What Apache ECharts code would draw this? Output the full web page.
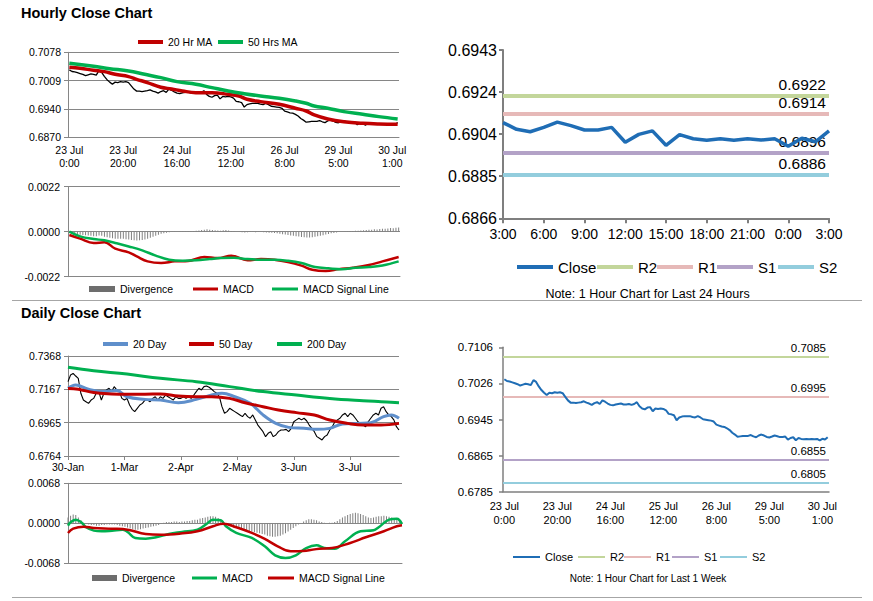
<!DOCTYPE html>
<html><head><meta charset="utf-8">
<script src="https://cdn.jsdelivr.net/npm/echarts@6/dist/echarts.min.js"></script>
<style>html,body{margin:0;padding:0;background:#fff}#c{width:873px;height:601px}</style>
</head><body><div id="c"></div>
<script>
// ---------------- categories / tick labels ----------------
const hourDays = [['23 Jul',0,23],['24 Jul',0,23],['25 Jul',0,23],['26 Jul',0,22],['29 Jul',0,23],['30 Jul',0,3]];
const hourCats = [];
hourDays.forEach(([d,a,b])=>{for(let h=a;h<=b;h++) hourCats.push(d+'\n'+h+':00');});
const hourTickLabels = ['23 Jul\n0:00','23 Jul\n20:00','24 Jul\n16:00','25 Jul\n12:00','26 Jul\n8:00','29 Jul\n5:00','30 Jul\n1:00'];
const last24Start = 98;
const cats24 = hourCats.slice(last24Start).map(c=>c.split('\n')[1]);

const monthNames = ['Jan','Feb','Mar','Apr','May','Jun','Jul'];
const dailyCats = [];
for (let d = new Date(Date.UTC(2019,0,30)); d.getTime() <= Date.UTC(2019,6,30); d.setUTCDate(d.getUTCDate()+1)) {
  const wd = d.getUTCDay(); if (wd>0 && wd<6) dailyCats.push(d.getUTCDate()+'-'+monthNames[d.getUTCMonth()]);
}
const dailyTickLabels = ['30-Jan','1-Mar','2-Apr','2-May','3-Jun','3-Jul'];

const yTicksHourly = ['0.6870','0.6940','0.7009','0.7078'];
const yTicksHourlyMacd = ['-0.0022','0.0000','0.0022'];
const yTicks24h = ['0.6866','0.6885','0.6904','0.6924','0.6943'];
const yTicksDaily = ['0.6764','0.6965','0.7167','0.7368'];
const yTicksDailyMacd = ['-0.0068','0.0000','0.0068'];
const yTicksWeek = ['0.6785','0.6865','0.6945','0.7026','0.7106'];

// ---------------- hourly values ----------------
const hourlyClose = [
0.7035,0.7031,0.7030,0.7028,0.7026,0.7024,0.7021,0.7023,0.7025,0.7024,
0.7022,0.7033,0.7029,0.7019,0.7011,0.7005,0.7000,0.7005,0.7004,0.7006,
0.7005,0.7006,0.7004,0.6996,0.6988,0.6983,0.6983,0.6982,0.6983,0.6984,
0.6986,0.6983,0.6981,0.6978,0.6982,0.6984,0.6980,0.6988,0.6985,0.6981,
0.6978,0.6977,0.6979,0.6980,0.6981,0.6979,0.6979,0.6980,0.6978,0.6980,
0.6984,0.6975,0.6970,0.6968,0.6972,0.6973,0.6964,0.6970,0.6969,0.6970,
0.6969,0.6966,0.6958,0.6957,0.6955,0.6944,0.6950,0.6952,0.6953,0.6953,
0.6953,0.6951,0.6950,0.6953,0.6950,0.6946,0.6945,0.6944,0.6943,0.6941,
0.6934,0.6932,0.6930,0.6929,0.6926,0.6922,0.6916,0.6912,0.6907,0.6908,
0.6909,0.6909,0.6909,0.6911,0.6908,0.6906,0.6910,0.6912,
0.69098,0.69067,0.69056,0.69076,0.69100,0.69084,0.69064,0.69064,0.69076,0.69008,
0.69044,0.69060,0.68994,0.69043,0.69024,0.69017,0.69024,0.69017,0.69024,0.69018,
0.69024,0.68990,0.69026,0.69010,0.69060];
const ma20Hourly = [[0,0.70413],[4,0.70388],[9,0.70340],[13,0.70307],[17,0.70241],[22,0.70185],[25,0.70119],[29,0.70039],[34,0.69924],[38,0.69883],[42,0.69834],[47,0.69793],[53,0.69793],[59,0.69752],[63,0.69711],[66,0.69630],[71,0.69573],[78,0.69507],[84,0.69410],[88,0.69344],[91,0.69247],[96,0.69149],[102,0.69083],[109,0.69043],[115,0.69026],[122,0.69018]];
const ma50Hourly = [[0,0.70511],[9,0.70437],[15,0.70380],[22,0.70323],[28,0.70242],[34,0.70160],[40,0.70062],[47,0.69997],[53,0.69915],[59,0.69834],[65,0.69768],[71,0.69711],[78,0.69654],[84,0.69589],[88,0.69532],[91,0.69466],[96,0.69410],[102,0.69328],[109,0.69263],[115,0.69206],[122,0.69149]];
const hourlyDiv = [
-0.00005,-0.0001,-0.00012,-0.00014,-0.00015,-0.00016,-0.00017,-0.00018,-0.0002,-0.00022,
-0.00022,-0.00018,-0.0002,-0.00025,-0.00027,-0.0003,-0.00032,-0.00034,-0.00035,-0.00034,
-0.00035,-0.00037,-0.00038,-0.0004,-0.00042,-0.00043,-0.00042,-0.0004,-0.00038,-0.00035,
-0.0003,-0.00025,-0.0002,-0.00015,-0.0001,-0.00007,-0.00005,-0.00003,-0.00002,-0.00001,
0,0.00001,-0.00001,0.00001,0.00002,0.00003,0.00004,0.00005,0.00006,0.00008,
0.0001,0.00012,0.0001,0.00008,0.00007,0.00006,0.00005,0.00007,0.00008,0.00006,
0.00004,0.00002,0,-0.00002,-0.00003,-0.00004,-0.00003,-0.00002,-0.00002,-0.00003,
-0.00002,-0.00002,-0.00003,-0.00004,-0.00005,-0.00005,-0.00006,-0.00008,-0.0001,-0.00012,
-0.00014,-0.00016,-0.00018,-0.0002,-0.00022,-0.00024,-0.00026,-0.00027,-0.00028,-0.00028,
-0.00027,-0.00025,-0.00022,-0.0002,-0.00017,-0.00014,-0.00011,-0.00008,-0.00006,-0.00004,
-0.00002,0,0.00001,0.00002,0.00003,0.00004,0.00005,0.00005,0.00006,0.00007,
0.00008,0.0001,0.00009,0.00012,0.00011,0.00013,0.00015,0.00014,0.00016,0.00018,
0.00017,0.00019,0.0002];
const macdHourly = [[0,-0.00016],[4,-0.00034],[9,-0.00055],[13,-0.00052],[17,-0.00083],[22,-0.00101],[25,-0.00121],[29,-0.00145],[34,-0.00153],[39,-0.00145],[44,-0.00143],[50,-0.00124],[55,-0.00129],[60,-0.00117],[66,-0.0014],[71,-0.00134],[76,-0.00137],[81,-0.00148],[86,-0.00166],[90,-0.00186],[95,-0.00192],[100,-0.00183],[105,-0.00176],[111,-0.00163],[116,-0.00145],[122,-0.00124]];
const signalHourly = [[0,0],[4,-0.00023],[9,-0.00036],[13,-0.00042],[17,-0.00055],[22,-0.00072],[27,-0.00091],[32,-0.00117],[37,-0.00137],[42,-0.00142],[47,-0.0014],[52,-0.00134],[56,-0.00129],[61,-0.00127],[66,-0.00134],[71,-0.00137],[76,-0.00137],[81,-0.00142],[86,-0.00153],[91,-0.00173],[96,-0.00179],[101,-0.00183],[106,-0.00176],[111,-0.00173],[116,-0.00165],[122,-0.00145]];

// ---------------- daily values ----------------
const dailyClose = [
0.7213,0.7253,0.7263,0.7247,0.7233,0.7143,0.7102,0.7092,0.7082,0.7102,
0.7112,0.7143,0.7153,0.7102,0.7143,0.7163,0.7173,0.7153,0.7183,0.7163,
0.7153,0.7112,0.7102,0.7112,0.7072,0.7046,0.7032,0.7052,0.7072,0.7082,
0.7102,0.7102,0.7092,0.7112,0.7122,0.7102,0.7122,0.7112,0.7132,0.7122,
0.7112,0.7102,0.7122,0.7112,0.7112,0.7122,0.7112,0.7122,0.7112,0.7132,
0.7153,0.7173,0.7163,0.7183,0.7187,0.7179,0.7167,0.7153,0.7143,0.7122,
0.7062,0.7022,0.7032,0.7052,0.7042,0.7032,0.7022,0.7012,0.7002,0.7022,
0.7002,0.6992,0.7012,0.6982,0.6951,0.6931,0.6911,0.6881,0.6901,0.6911,
0.6881,0.6891,0.6911,0.6921,0.6921,0.6925,0.6911,0.6931,0.6971,0.6982,
0.6992,0.6982,0.6992,0.6977,0.6951,0.6931,0.6911,0.6881,0.6871,0.6861,
0.6881,0.6891,0.6921,0.6941,0.6971,0.6982,0.6992,0.7012,0.7022,0.7002,
0.7022,0.7012,0.6992,0.6971,0.6961,0.6951,0.6941,0.6971,0.6992,0.7012,
0.7022,0.7012,0.7052,0.7062,0.7032,0.7012,0.7002,0.6982,0.6941,0.6921];
const ma20Daily = [[0,0.7173],[3,0.7193],[8,0.7167],[14,0.7153],[19,0.7159],[23,0.7122],[30,0.7106],[36,0.7102],[43,0.7086],[50,0.7106],[56,0.7132],[60,0.7143],[65,0.7122],[71,0.7082],[76,0.7012],[81,0.6961],[86,0.6937],[92,0.6931],[97,0.6925],[102,0.6931],[107,0.6957],[113,0.6961],[118,0.6965],[123,0.7002],[126,0.7012],[129,0.6992]];
const ma50Daily = [[0,0.7171],[4,0.7167],[10,0.7147],[17,0.7139],[23,0.7137],[30,0.7137],[36,0.7139],[43,0.7126],[50,0.7122],[56,0.7122],[63,0.7112],[69,0.7086],[76,0.7062],[82,0.7042],[89,0.7026],[96,0.7012],[102,0.6981],[109,0.6961],[115,0.6951],[122,0.6951],[129,0.6961]];
const ma200Daily = [[0,0.7300],[10,0.7279],[23,0.7259],[36,0.7233],[50,0.7213],[63,0.7183],[76,0.7153],[89,0.7132],[102,0.7112],[115,0.7098],[122,0.7092],[129,0.7086]];
const dailyDiv = [
0.0010,0.0013,0.0015,0.0014,0.0010,0.0005,0.0001,-0.0001,-0.0002,
-0.0003,-0.0003,-0.0004,-0.0004,-0.0003,-0.0003,-0.0002,-0.0002,-0.0002,-0.0002,-0.0003,-0.0004,-0.0005,-0.0006,
-0.0007,-0.0009,-0.0010,-0.0011,-0.0011,-0.0010,-0.0009,-0.0008,-0.0007,-0.0006,-0.0005,-0.0004,-0.0003,
-0.0001,0.0001,0.0002,0.0002,0.0002,0.0003,0.0003,0.0002,0.0003,0.0003,
0.0004,0.0004,0.0005,0.0006,0.0006,0.0008,0.0009,0.0010,0.0011,0.0012,0.0012,0.0011,0.0009,
0.0006,0.0003,0.0000,-0.0003,
-0.0005,-0.0007,-0.0008,-0.0009,-0.0010,-0.0011,-0.0012,-0.0013,-0.0014,-0.0015,-0.0016,-0.0017,-0.0018,-0.0019,-0.0021,-0.0022,-0.0023,-0.0023,-0.0022,-0.0021,-0.0019,-0.0017,
-0.0014,-0.0011,-0.0008,-0.0005,-0.0002,0.0000,
0.0003,0.0005,0.0007,0.0007,0.0006,0.0005,0.0003,0.0002,0.0001,
0.0000,0.0001,0.0001,0.0002,0.0004,
0.0007,0.0010,0.0012,0.0014,0.0016,0.0017,0.0018,0.0017,0.0016,0.0014,0.0012,0.0010,
0.0009,0.0010,0.0011,0.0012,0.0012,0.0013,0.0012,0.0011,0.0010,0.0009,0.0007,0.0004,
0.0001];
const macdDaily = [[0,-0.0004],[1,0.00017],[3,0.00062],[5,0.00023],[7,-0.00068],[10,-0.00125],[13,-0.00136],[17,-0.00125],[21,-0.00108],[23,-0.00147],[26,-0.00249],[30,-0.00261],[34,-0.00238],[39,-0.00181],[44,-0.00147],[50,-0.00108],[54,0.00006],[56,0.00062],[59,0.00051],[61,-0.00051],[65,-0.00164],[71,-0.00249],[76,-0.00391],[80,-0.00544],[84,-0.00589],[88,-0.00544],[92,-0.0042],[96,-0.00374],[99,-0.0042],[103,-0.00431],[107,-0.00306],[113,-0.00136],[118,-0.00119],[120,-0.00068],[124,0.00062],[127,0.00079],[129,-0.00011]];
const signalDaily = [[0,-0.00164],[2,-0.00091],[6,-0.00057],[10,-0.00079],[17,-0.00091],[23,-0.00108],[30,-0.00181],[36,-0.00193],[43,-0.00176],[50,-0.00136],[56,-0.00051],[60,-0.00006],[65,-0.00068],[71,-0.00164],[76,-0.00266],[81,-0.00391],[86,-0.00476],[92,-0.00465],[97,-0.00431],[102,-0.0042],[109,-0.00334],[115,-0.00238],[122,-0.00136],[127,-0.00051],[129,-0.00034]];

// ---------------- pivot levels ----------------
const levelNames = ['R2','R1','S1','S2'];
const levels24h = [0.6922, 0.6914, 0.6896, 0.6886];
const levels1w = [0.7085, 0.6995, 0.6855, 0.6805];

// ---------------- styles ----------------
const FONT = "'Liberation Sans', Arial, Helvetica, sans-serif";
const GRAY = '#868686', AXG = '#7f7f7f';
const RED = '#c00000', GREEN = '#00b050', BLUE20 = '#5f8fcb', CLOSE_BLUE = '#1f6db5', DIVC = '#808080';
const levelColors = ['#c3d69b','#e6b9b8','#b3a2c7','#93cddd'];
const close24 = hourlyClose.slice(last24Start);

const hourTickFn = (i, v) => hourTickLabels.indexOf(v) >= 0;
const dayTickFn = (i, v) => dailyTickLabels.indexOf(v) >= 0;

function yAx(gi, labels, fs, margin, split, lw) {
  const vals = labels.map(Number);
  const min = vals[0], max = vals[vals.length-1];
  return {type:'value', gridIndex:gi, min, max, interval:(max-min)/(vals.length-1),
    axisLine:{show:true, lineStyle:{color:lw?AXG:GRAY, width:lw||1}},
    axisTick:{show:true, length:4, lineStyle:{color:lw?AXG:GRAY, width:lw||1}},
    axisLabel:{color:'#000', fontSize:fs, margin, fontFamily:FONT,
      formatter:(v)=>{let best=0;vals.forEach((x,k)=>{if(Math.abs(x-v)<Math.abs(vals[best]-v))best=k;});return labels[best];}},
    splitLine:{show:split, lineStyle:{color:GRAY, width:1}}};
}
function leg(name, x, cy, color, w, h, fs) {
  const lh = Math.round(fs*1.25);
  return {show:true, selectedMode:false, left:x, top:cy-lh/2, padding:0, itemGap:0,
    itemWidth:w, itemHeight:h, data:[{name, icon:'rect', itemStyle:{color, borderWidth:0}}],
    textStyle:{fontSize:fs, lineHeight:lh, color:'#000', fontFamily:FONT}};
}
function lineS(name, gi, data, color, width, smooth, z) {
  return {name, type:'line', xAxisIndex:gi, yAxisIndex:gi, data, symbol:'none', smooth:smooth||false,
    lineStyle:{color, width}, itemStyle:{color}, z:z||2, silent:true};
}
// legend-only series for the pivot levels (lines are drawn as markLines on the Close series)
function levelLegendS(k, gi, width) {
  const color = levelColors[k];
  return {name:levelNames[k], type:'line', xAxisIndex:gi, yAxisIndex:gi, data:[], symbol:'none',
    lineStyle:{color, width}, itemStyle:{color}, silent:true};
}
function levelMarks(vals, width, fs) {
  return {silent:true, symbol:['none','none'], animation:false, precision:4, z:1,
    data: vals.map((v,k)=>({yAxis:v,
      lineStyle:{color:levelColors[k], width, type:'solid'},
      label:{show:true, position:'insideEndTop', formatter:v.toFixed(4), color:'#000', fontSize:fs, fontFamily:FONT, distance:3}}))};
}

const option = {
  animation:false, backgroundColor:'#fff',
  textStyle:{fontFamily:FONT},
  grid:[
    {left:68, top:52.3, width:331, height:85},
    {left:68, top:186.7, width:332, height:90},
    {left:503, top:50, width:326, height:168.3},
    {left:68, top:356, width:331, height:100},
    {left:68, top:483.3, width:334, height:80},
    {left:503, top:347.3, width:326, height:144.4}
  ],
  xAxis:[
    {type:'category', gridIndex:0, data:hourCats, boundaryGap:true,
      axisLine:{lineStyle:{color:GRAY}}, axisTick:{interval:hourTickFn, length:4, lineStyle:{color:GRAY}},
      axisLabel:{interval:hourTickFn, fontSize:10.5, lineHeight:13, margin:6, color:'#000', fontFamily:FONT}},
    {type:'category', gridIndex:1, data:hourCats, boundaryGap:true,
      axisLine:{onZero:false, lineStyle:{color:GRAY}}, axisTick:{show:false}, axisLabel:{show:false}},
    {type:'category', gridIndex:2, data:cats24, boundaryGap:false,
      axisLine:{lineStyle:{color:AXG, width:2}}, axisTick:{interval:2, length:5, lineStyle:{color:AXG, width:2}},
      axisLabel:{interval:2, fontSize:14, margin:9, color:'#000', fontFamily:FONT}},
    {type:'category', gridIndex:3, data:dailyCats, boundaryGap:false,
      axisLine:{lineStyle:{color:GRAY}}, axisTick:{interval:dayTickFn, length:4, lineStyle:{color:GRAY}},
      axisLabel:{interval:dayTickFn, fontSize:10.5, margin:5, color:'#000', fontFamily:FONT}},
    {type:'category', gridIndex:4, data:dailyCats, boundaryGap:false,
      axisLine:{onZero:false, lineStyle:{color:GRAY}}, axisTick:{show:false}, axisLabel:{show:false}},
    {type:'category', gridIndex:5, data:hourCats, boundaryGap:true,
      axisLine:{lineStyle:{color:AXG, width:1.5}}, axisTick:{interval:hourTickFn, length:5, lineStyle:{color:AXG, width:1.5}},
      axisLabel:{interval:hourTickFn, fontSize:11, lineHeight:14, margin:7, color:'#000', fontFamily:FONT}}
  ],
  yAxis:[
    yAx(0, yTicksHourly, 10.5, 7, true),
    yAx(1, yTicksHourlyMacd, 10.5, 8, true),
    yAx(2, yTicks24h, 16, 6, false, 2),
    yAx(3, yTicksDaily, 10.5, 7, true),
    yAx(4, yTicksDailyMacd, 10.5, 8, true),
    yAx(5, yTicksWeek, 11.5, 10, false, 1.5)
  ],
  legend:[
    leg('20 Hr MA', 138, 42, RED, 25, 4, 10.5),
    leg('50 Hrs MA', 218, 42, GREEN, 25, 4, 10.5),
    leg('Divergence', 89, 289, '#6d6d6d', 26, 6, 10.5),
    leg('MACD', 193, 289, RED, 25, 3, 10.5),
    leg('MACD Signal Line', 272, 289, GREEN, 26, 3, 10.5),
    leg('Close', 517, 267, CLOSE_BLUE, 36, 4, 15),
    leg('R2', 597, 267, levelColors[0], 36, 4, 15),
    leg('R1', 657, 267, levelColors[1], 36, 4, 15),
    leg('S1', 717, 267, levelColors[2], 36, 4, 15),
    leg('S2', 778, 267, levelColors[3], 36, 4, 15),
    leg('20 Day', 103, 344, BLUE20, 25, 4, 10.5),
    leg('50 Day', 189, 344, RED, 25, 4, 10.5),
    leg('200 Day', 277, 344, GREEN, 25, 4, 10.5),
    leg('Divergence', 92, 578, '#6d6d6d', 25, 6, 10.5),
    leg('MACD', 192, 578, GREEN, 25, 3, 10.5),
    leg('MACD Signal Line', 268, 578, RED, 26, 3, 10.5),
    leg('Close', 513, 557, CLOSE_BLUE, 27, 2, 11),
    leg('R2', 578, 557, levelColors[0], 27, 2, 11),
    leg('R1', 624, 557, levelColors[1], 27, 2, 11),
    leg('S1', 672, 557, levelColors[2], 27, 2, 11),
    leg('S2', 720, 557, levelColors[3], 27, 2, 11)
  ],
  series:[
    lineS('Hourly Close', 0, hourlyClose, '#000', 1.3),
    lineS('20 Hr MA', 0, ma20Hourly, RED, 3.5, 0.4, 3),
    lineS('50 Hrs MA', 0, ma50Hourly, GREEN, 3.5, 0.4, 3),
    {name:'Divergence', type:'bar', xAxisIndex:1, yAxisIndex:1, data:hourlyDiv, barWidth:1, itemStyle:{color:DIVC}, silent:true},
    lineS('MACD', 1, macdHourly, RED, 2.5, 0.4, 3),
    lineS('MACD Signal Line', 1, signalHourly, GREEN, 2.5, 0.4, 4),
    Object.assign(lineS('Close', 2, close24, CLOSE_BLUE, 3.5, false, 5), {markLine: levelMarks(levels24h, 4, 15.5)}),
    levelLegendS(0, 2, 4), levelLegendS(1, 2, 4), levelLegendS(2, 2, 4), levelLegendS(3, 2, 4),
    lineS('Daily Close', 3, dailyClose, '#000', 1.1),
    lineS('20 Day', 3, ma20Daily, BLUE20, 3, 0.4, 3),
    lineS('50 Day', 3, ma50Daily, RED, 3, 0.4, 3),
    lineS('200 Day', 3, ma200Daily, GREEN, 3, 0.4, 3),
    {name:'Divergence', type:'bar', xAxisIndex:4, yAxisIndex:4, data:dailyDiv, barWidth:1, itemStyle:{color:DIVC}, silent:true},
    lineS('MACD', 4, macdDaily, GREEN, 2.5, 0.4, 3),
    lineS('MACD Signal Line', 4, signalDaily, RED, 2.5, 0.4, 4),
    Object.assign(lineS('Close', 5, hourlyClose, CLOSE_BLUE, 2, false, 5), {markLine: levelMarks(levels1w, 2, 11.5)}),
    levelLegendS(0, 5, 2), levelLegendS(1, 5, 2), levelLegendS(2, 5, 2), levelLegendS(3, 5, 2)
  ],
  graphic:[
    {type:'text', x:21, y:12.7, style:{text:'Hourly Close Chart', font:'bold 14.5px '+FONT, fill:'#000', verticalAlign:'middle'}},
    {type:'text', x:21, y:312.7, style:{text:'Daily Close Chart', font:'bold 14.5px '+FONT, fill:'#000', verticalAlign:'middle'}},
    {type:'text', x:647.5, y:294, style:{text:'Note: 1 Hour Chart for Last 24 Hours', font:'12.5px '+FONT, fill:'#000', align:'center', verticalAlign:'middle'}},
    {type:'text', x:648, y:578, style:{text:'Note: 1 Hour Chart for Last 1 Week', font:'10px '+FONT, fill:'#000', align:'center', verticalAlign:'middle'}},
    {type:'line', shape:{x1:12, y1:300.5, x2:862, y2:300.5}, style:{stroke:'#a6a6a6', lineWidth:1}},
    {type:'line', shape:{x1:12, y1:597.5, x2:862, y2:597.5}, style:{stroke:'#a6a6a6', lineWidth:1}}
  ]
};
const chart = echarts.init(document.getElementById('c'), null, {renderer:'svg'});
chart.setOption(option);
</script></body></html>
